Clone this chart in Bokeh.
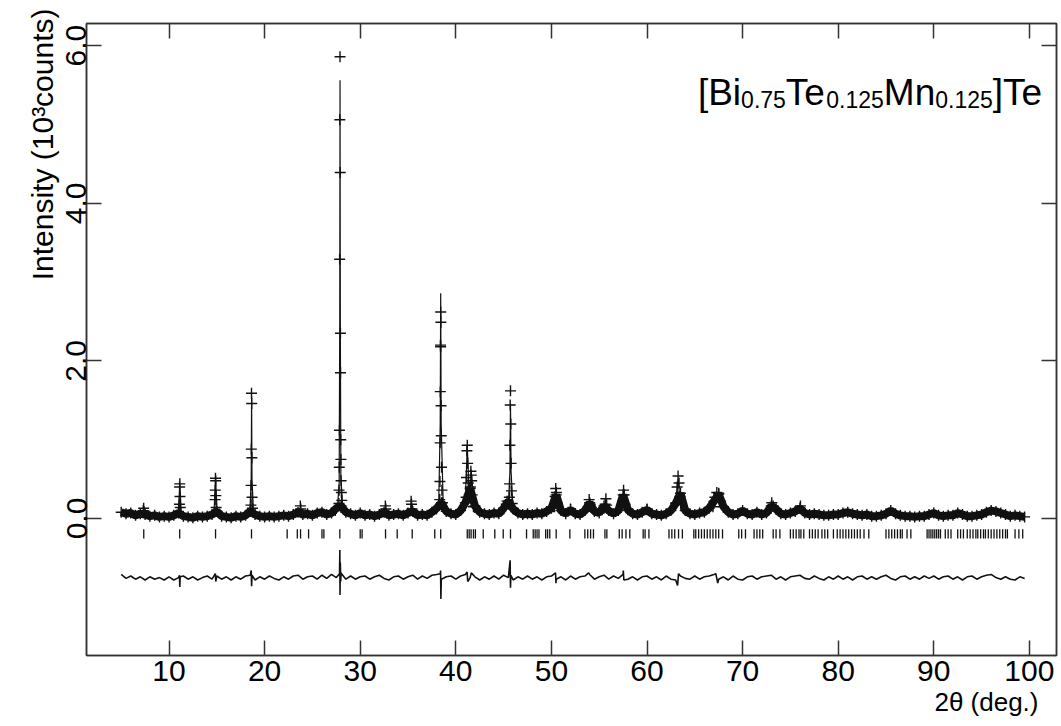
import math
import numpy as np
from bokeh.plotting import figure
from bokeh.models import (LinearAxis, Range1d, FixedTicker, Label, PrintfTickFormatter,
                          Title, CustomLabelingPolicy)
from bokeh.embed import file_html
from bokeh.resources import INLINE

# ---------------- data: 2-theta (deg) / intensity (10^3 counts) ----------------
grid_start, grid_stop, grid_step = 5.0, 99.5, 0.5   # observed background sampling

bg_obs = [
    0.08, 0.06, 0.07, 0.04, 0.06, 0.05, 0.03, 0.04, 0.02, 0.03,
    0.02, 0.04, 0.07, 0.03, 0.02, 0.01, 0.03, 0.02, 0.03, 0.05,
    0.09, 0.03, 0.02, 0.01, 0.03, 0.02, 0.04, 0.09, 0.05, 0.03,
    0.02, 0.03, 0.02, 0.03, 0.04, 0.03, 0.05, 0.08, 0.05, 0.06,
    0.04, 0.07, 0.08, 0.05, 0.07, 0.13, 0.16, 0.08, 0.06, 0.04,
    0.07, 0.04, 0.05, 0.03, 0.05, 0.08, 0.04, 0.05, 0.06, 0.04,
    0.07, 0.09, 0.04, 0.05, 0.04, 0.08, 0.13, 0.20, 0.09, 0.06,
    0.05, 0.10, 0.20, 0.38, 0.16, 0.08, 0.06, 0.05, 0.07, 0.06,
    0.13, 0.22, 0.12, 0.07, 0.05, 0.06, 0.05, 0.07, 0.06, 0.09,
    0.13, 0.30, 0.10, 0.06, 0.11, 0.06, 0.05, 0.10, 0.20, 0.09,
    0.07, 0.16, 0.10, 0.06, 0.10, 0.30, 0.11, 0.06, 0.05, 0.08,
    0.11, 0.06, 0.05, 0.04, 0.06, 0.10, 0.19, 0.32, 0.10, 0.06,
    0.05, 0.07, 0.08, 0.13, 0.22, 0.31, 0.15, 0.08, 0.05, 0.06,
    0.10, 0.06, 0.05, 0.08, 0.05, 0.07, 0.16, 0.12, 0.06, 0.05,
    0.07, 0.09, 0.13, 0.07, 0.05, 0.06, 0.05, 0.04, 0.04, 0.05,
    0.05, 0.07, 0.08, 0.06, 0.05, 0.04, 0.05, 0.03, 0.03, 0.04,
    0.06, 0.10, 0.06, 0.04, 0.03, 0.03, 0.02, 0.03, 0.03, 0.05,
    0.07, 0.04, 0.03, 0.04, 0.04, 0.07, 0.05, 0.03, 0.03, 0.04,
    0.05, 0.08, 0.10, 0.09, 0.07, 0.05, 0.03, 0.04, 0.03, 0.02,
]

peak_obs_x = [
    7.31, 7.35, 7.39,
    11.09, 11.11, 11.13, 11.15, 11.18,
    14.82, 14.84, 14.86, 14.88, 14.90, 14.93,
    18.57, 18.59, 18.61, 18.63, 18.65, 18.67, 18.69, 18.72,
    23.74, 23.78,
    27.40, 27.77, 27.79, 27.81, 27.83, 27.85, 27.87, 27.89, 27.91, 27.93, 27.94,
    27.96, 27.98, 28.00, 28.03, 28.07,
    32.63, 32.68,
    35.33, 35.37, 35.42,
    37.95, 38.32, 38.34, 38.36, 38.38, 38.40, 38.41, 38.42, 38.44, 38.46, 38.48,
    38.51, 38.55, 38.60,
    41.08, 41.12, 41.16, 41.20, 41.24, 41.30, 41.40, 41.52, 41.58, 41.62, 41.66,
    41.72, 41.85,
    45.28, 45.36, 45.60, 45.63, 45.66, 45.69, 45.72, 45.75, 45.78, 45.82, 45.90,
    50.32, 50.39, 50.45, 50.52, 50.60,
    52.00,
    53.85, 53.95, 54.05,
    55.62, 55.70, 55.78,
    57.45, 57.55, 57.62, 57.70,
    60.00,
    63.05, 63.15, 63.25, 63.35, 63.45,
    66.90, 67.10, 67.30, 67.50, 67.70,
    73.05, 73.20,
    76.05,
]
peak_obs_y = [
    0.10, 0.13, 0.09,
    0.18, 0.40, 0.44, 0.28, 0.14,
    0.24, 0.36, 0.51, 0.48, 0.29, 0.14,
    0.17, 0.42, 0.88, 1.59, 1.46, 0.77, 0.27, 0.13,
    0.16, 0.12,
    0.10, 0.19, 0.36, 0.65, 1.12, 3.29, 5.06, 5.86, 4.39, 2.35, 1.85,
    1.00, 0.75, 0.48, 0.33, 0.23,
    0.16, 0.12,
    0.22, 0.18, 0.12,
    0.12, 0.24, 0.47, 0.96, 1.61, 2.20, 2.18, 2.62, 2.49, 1.43, 1.05,
    0.65, 0.36, 0.20,
    0.27, 0.52, 0.86, 0.93, 0.70, 0.45, 0.30, 0.40, 0.60, 0.55, 0.48,
    0.30, 0.15,
    0.18, 0.22, 0.27, 0.44, 0.93, 1.44, 1.62, 1.20, 0.70, 0.35, 0.19,
    0.15, 0.28, 0.38, 0.33, 0.20,
    0.12,
    0.15, 0.24, 0.18,
    0.18, 0.25, 0.17,
    0.22, 0.36, 0.30, 0.18,
    0.12,
    0.20, 0.40, 0.54, 0.45, 0.28,
    0.15, 0.27, 0.33, 0.32, 0.22,
    0.20, 0.16,
    0.16,
]

calc_peaks_x = [
    [7.20, 7.35, 7.50],
    [10.95, 11.13, 11.30],
    [14.70, 14.87, 15.05],
    [18.45, 18.60, 18.64, 18.68, 18.85],
    [23.60, 23.76, 23.92],
    [27.60, 27.80, 27.86, 27.89, 27.92, 27.98, 28.20],
    [32.50, 32.65, 32.80],
    [35.20, 35.35, 35.50],
    [38.20, 38.37, 38.42, 38.47, 38.70],
    [40.95, 41.20, 41.42, 41.63, 41.95],
    [45.50, 45.66, 45.72, 45.78, 46.00],
    [50.20, 50.45, 50.70],
    [53.75, 53.95, 54.15],
    [55.50, 55.70, 55.90],
    [57.30, 57.55, 57.80],
    [62.95, 63.25, 63.55],
    [66.80, 67.30, 67.50, 67.90],
]
calc_peaks_y = [
    [0.05, 0.12, 0.05],
    [0.05, 0.42, 0.05],
    [0.05, 0.50, 0.06],
    [0.06, 0.50, 1.55, 0.50, 0.06],
    [0.05, 0.14, 0.05],
    [0.10, 0.45, 2.50, 5.56, 2.50, 0.50, 0.10],
    [0.05, 0.14, 0.05],
    [0.06, 0.20, 0.06],
    [0.10, 1.20, 2.86, 1.20, 0.10],
    [0.10, 0.90, 0.30, 0.58, 0.10],
    [0.12, 0.60, 1.46, 0.60, 0.10],
    [0.08, 0.36, 0.08],
    [0.07, 0.21, 0.07],
    [0.07, 0.22, 0.07],
    [0.07, 0.34, 0.07],
    [0.10, 0.50, 0.10],
    [0.10, 0.31, 0.30, 0.10],
]

diff_grid = [
    -0.71, -0.76, -0.73, -0.77, -0.74, -0.78, -0.74, -0.77, -0.75, -0.78,
    -0.74, -0.78, -0.75, -0.73, -0.77, -0.74, -0.78, -0.75, -0.73, -0.77,
    -0.73, -0.77, -0.74, -0.78, -0.74, -0.77, -0.73, -0.72, -0.78, -0.74,
    -0.77, -0.73, -0.76, -0.78, -0.74, -0.77, -0.73, -0.72, -0.77, -0.74,
    -0.73, -0.77, -0.72, -0.76, -0.71, -0.75, -0.69, -0.77, -0.73, -0.77,
    -0.74, -0.73, -0.77, -0.74, -0.72, -0.76, -0.78, -0.74, -0.73, -0.77,
    -0.74, -0.72, -0.77, -0.73, -0.76, -0.72, -0.71, -0.77, -0.74, -0.73,
    -0.77, -0.73, -0.71, -0.75, -0.74, -0.78, -0.74, -0.77, -0.73, -0.77,
    -0.72, -0.75, -0.78, -0.74, -0.77, -0.73, -0.77, -0.74, -0.78, -0.74,
    -0.73, -0.77, -0.74, -0.78, -0.73, -0.77, -0.74, -0.73, -0.71, -0.77,
    -0.74, -0.72, -0.77, -0.73, -0.76, -0.71, -0.77, -0.74, -0.78, -0.74,
    -0.73, -0.77, -0.74, -0.78, -0.73, -0.77, -0.78, -0.73, -0.76, -0.77,
    -0.73, -0.77, -0.74, -0.73, -0.71, -0.77, -0.74, -0.78, -0.73, -0.77,
    -0.78, -0.74, -0.73, -0.77, -0.74, -0.73, -0.72, -0.77, -0.74, -0.78,
    -0.74, -0.73, -0.72, -0.76, -0.77, -0.73, -0.76, -0.78, -0.74, -0.77,
    -0.73, -0.77, -0.74, -0.78, -0.74, -0.73, -0.77, -0.74, -0.77, -0.74,
    -0.72, -0.76, -0.78, -0.74, -0.73, -0.77, -0.74, -0.77, -0.73, -0.76,
    -0.73, -0.77, -0.74, -0.73, -0.77, -0.74, -0.78, -0.74, -0.73, -0.77,
    -0.74, -0.72, -0.71, -0.75, -0.77, -0.74, -0.77, -0.78, -0.74, -0.76,
]
diff_spike_x = [
    11.10, 11.13, 11.17, 14.85, 14.89, 18.60, 18.64, 18.68,
    27.84, 27.87, 27.89, 27.92, 27.96, 28.05,
    38.38, 38.41, 38.44, 38.48, 41.18, 41.25, 41.62,
    45.68, 45.72, 45.76, 50.43, 50.48, 53.90, 57.52, 57.58,
    63.20, 63.30, 67.20, 67.40,
]
diff_spike_y = [
    -0.72, -0.87, -0.74, -0.70, -0.80, -0.66, -0.86, -0.72,
    -0.70, -0.40, -0.97, -0.56, -0.80, -0.70,
    -0.70, -0.66, -1.02, -0.78, -0.68, -0.80, -0.69,
    -0.53, -0.88, -0.72, -0.69, -0.82, -0.69, -0.66, -0.78,
    -0.85, -0.70, -0.70, -0.82,
]

bragg_pos = [
    7.36, 11.12, 14.87, 18.63, 22.36, 23.42, 23.76, 24.60, 26.00, 26.20, 27.87,
    30.00, 30.20, 32.65, 33.87, 35.44, 37.80, 38.42, 41.20, 41.40, 41.60, 41.85,
    42.05, 42.87, 44.08, 44.96, 45.72, 47.40, 48.10, 48.30, 48.50, 48.70, 49.40,
    49.60, 49.83, 50.50, 51.93, 53.50, 53.80, 54.10, 54.40, 55.60, 55.80, 57.10,
    57.40, 57.80, 58.20, 59.60, 59.80, 60.20, 62.30, 62.60, 62.90, 63.30, 63.70,
    64.90, 65.10, 65.40, 65.70, 66.00, 66.30, 66.60, 66.90, 67.20, 67.50, 67.90,
    69.60, 69.90, 70.30, 71.20, 71.50, 71.80, 72.10, 73.20, 73.50, 73.90, 75.00,
    75.30, 75.60, 75.90, 76.10, 76.40, 77.00, 77.30, 77.60, 77.90, 78.30, 78.60,
    78.90, 79.50, 79.90, 80.20, 80.50, 80.80, 81.10, 81.40, 81.70, 82.00, 82.30,
    82.70, 83.20, 85.00, 85.30, 85.60, 85.90, 86.20, 86.50, 86.70, 87.20, 87.60,
    89.30, 89.50, 89.70, 89.90, 90.10, 90.30, 90.50, 90.70, 91.20, 91.50, 91.80,
    92.50, 92.80, 93.10, 93.50, 93.80, 94.10, 94.40, 94.60, 94.90, 95.20, 95.40,
    95.70, 96.00, 96.30, 96.60, 96.90, 97.20, 97.50, 97.70, 98.50, 98.90, 99.30,
]

x_ticks = [10, 20, 30, 40, 50, 60, 70, 80, 90, 100]
y_ticks = [0, 2, 4, 6]

# ---------------- layout constants ----------------
FONT = "Liberation Sans"
LEFT, TOP = 86, 13
FRAME_W, FRAME_H = 970, 632
PX_DEG = 9.56        # pixels per degree
PX_INT = 78.8        # pixels per 10^3 counts
X0 = 10 - (168.5 - LEFT) / PX_DEG
X1 = X0 + FRAME_W / PX_DEG
Y1 = (508 - TOP) / PX_INT
Y0 = Y1 - FRAME_H / PX_INT


def dx(px):
    return X0 + (px - LEFT) / PX_DEG


def dy(py):
    return (508 - py) / PX_INT


grid_x = np.arange(grid_start, grid_stop + grid_step / 2, grid_step)
obs_x = np.concatenate([grid_x, peak_obs_x])
obs_y = np.concatenate([bg_obs, peak_obs_y])
d_x = np.concatenate([grid_x, diff_spike_x])
d_y = np.concatenate([diff_grid, diff_spike_y])
order = np.argsort(d_x, kind="stable")
d_x, d_y = d_x[order], d_y[order]

p = figure(frame_width=FRAME_W, frame_height=FRAME_H,
           x_range=Range1d(X0, X1), y_range=Range1d(Y0, Y1),
           output_backend="svg", toolbar_location=None,
           min_border_left=LEFT, min_border_right=5, min_border_top=TOP,
           min_border_bottom=726 - TOP - FRAME_H)
p.background_fill_color = "white"
p.border_fill_color = "white"
p.outline_line_color = "#333333"
p.outline_line_width = 1.5
p.xgrid.visible = False
p.ygrid.visible = False

INK = "#111111"

# calculated profile: background band + peak spikes
p.line(grid_x, bg_obs, line_color=INK, line_width=8)
p.multi_line(calc_peaks_x, calc_peaks_y, line_color=INK, line_width=1.2)
# observed points
p.scatter(obs_x, obs_y, marker="cross", size=11, line_color=INK, line_width=1.4)
# Bragg reflection markers
p.segment(x0=bragg_pos, y0=[-0.135] * len(bragg_pos), x1=bragg_pos,
          y1=[-0.255] * len(bragg_pos), line_color=INK, line_width=1.3)
# difference curve
p.line(d_x, d_y, line_color=INK, line_width=1.6)

no_labels = CustomLabelingPolicy(code="return new Set()")


def style_axis(ax, ticks, show_labels):
    ax.ticker = FixedTicker(ticks=ticks)
    ax.major_tick_in = 15
    ax.major_tick_out = 0
    ax.minor_tick_in = 0
    ax.minor_tick_out = 0
    ax.axis_line_color = "#333333"
    ax.axis_line_width = 1.5
    ax.major_tick_line_color = "#333333"
    ax.major_tick_line_width = 1.5
    ax.major_label_text_font = FONT
    ax.major_label_text_color = "black"
    ax.major_label_text_font_size = "30px"
    if not show_labels:
        ax.major_label_policy = no_labels
        ax.major_label_standoff = 0


style_axis(p.xaxis[0], x_ticks, True)
p.xaxis[0].major_label_standoff = 5

yax = p.yaxis[0]
style_axis(yax, y_ticks, True)
yax.formatter = PrintfTickFormatter(format="%.1f")
yax.major_label_orientation = "parallel"
yax.major_label_standoff = 0

top_ax = LinearAxis()
style_axis(top_ax, x_ticks, False)
p.add_layout(top_ax, "above")
right_ax = LinearAxis()
style_axis(right_ax, y_ticks, False)
p.add_layout(right_ax, "right")

# y axis title (left, aligned to the top)
p.add_layout(Title(text="Intensity (10³counts)", align="right", offset=-15, standoff=10,
                   text_font=FONT, text_font_size="30px", text_font_style="normal",
                   text_color="black"), "left")

# x axis title (bottom right)
p.add_layout(Title(text="2θ (deg.)", align="right", offset=18, standoff=2,
                   text_font=FONT, text_font_size="26px", text_font_style="normal",
                   text_color="black"), "below")

# compound title with subscripts
ARIAL_W = {"[": 0.278, "]": 0.278, "B": 0.667, "i": 0.222, "T": 0.611, "e": 0.556,
           "M": 0.833, "n": 0.556, ".": 0.278}
KERN_TE = -0.074
pieces = [("[Bi", False), ("0.75", True), ("Te", False), ("0.125", True),
          ("Mn", False), ("0.125", True), ("]Te", False)]
F_MAIN, F_SUB = 37, 23


def width(txt, size):
    w = sum(ARIAL_W.get(c, 0.556) for c in txt)
    if "Te" in txt:
        w += KERN_TE
    return w * size


total = sum(width(t, F_SUB if s else F_MAIN) for t, s in pieces)
cur = 1043 - total
for txt, sub in pieces:
    size = F_SUB if sub else F_MAIN
    p.add_layout(Label(x=dx(cur), y=dy(89 if sub else 82), text=txt,
                       text_align="left", text_baseline="alphabetic",
                       text_font=FONT, text_font_size=f"{size}px", text_color="black"))
    cur += width(txt, size)

open("out.html", "w").write(file_html(p, INLINE))
